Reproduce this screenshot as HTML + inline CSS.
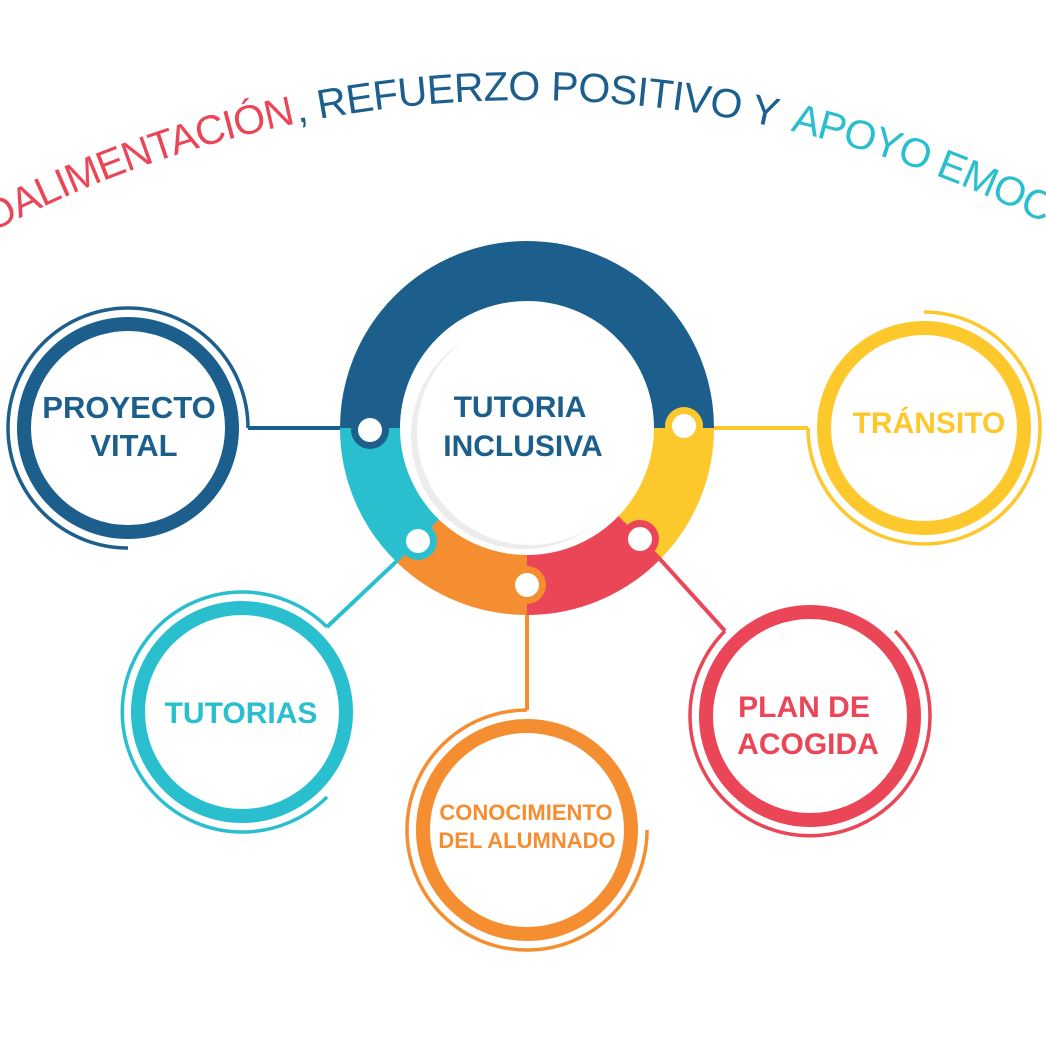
<!DOCTYPE html>
<html><head><meta charset="utf-8"><style>
html,body{margin:0;padding:0;background:#fff}
svg{display:block}
text{font-family:"Liberation Sans",sans-serif}
</style></head><body>
<svg width="1046" height="1046" viewBox="0 0 1046 1046" xmlns="http://www.w3.org/2000/svg">
<defs>
<path id="arc" d="M-212,369 A1150,1150 0 0 1 1266,369"/>
</defs>
<!-- title -->
<text font-size="41" letter-spacing="-1">
<textPath href="#arc" startOffset="569" text-anchor="end" fill="#ea4657">RETROALIMENTACIÓN</textPath>
</text>
<text font-size="41" letter-spacing="-0.5">
<textPath href="#arc" startOffset="572" text-anchor="start" fill="#1c5f8c">, REFUERZO POSITIVO Y</textPath>
</text>
<text font-size="41" letter-spacing="-1">
<textPath href="#arc" startOffset="1068" text-anchor="start" fill="#29bfcf">APOYO EMOCIONAL</textPath>
</text>

<!-- connectors -->
<g fill="none" stroke-width="4">
<path d="M370,428 H248" stroke="#1c5f8c"/>
<path d="M684,428 H808" stroke="#fdc82c"/>
<path d="M418,541 L327,627" stroke="#29bfcf"/>
<path d="M527,585 V710" stroke="#f58e30"/>
<path d="M640,537 L725,631" stroke="#ea4657"/>
</g>

<!-- central ring -->
<g fill="none" stroke-width="60">
<path d="M370,428 A157,157 0 0 1 684,428" stroke="#1c5f8c"/>
<path d="M684,428 A157,157 0 0 1 640,537" stroke="#fdc82c"/>
<path d="M640,537 A157,157 0 0 1 527,585" stroke="#ea4657"/>
<path d="M527,585 A157,157 0 0 1 418,541" stroke="#f58e30"/>
<path d="M418,541 A157,157 0 0 1 370,428" stroke="#29bfcf"/>
</g>
<circle cx="370" cy="430" r="19" fill="#1c5f8c"/>
<circle cx="684" cy="426" r="19" fill="#fdc82c"/>
<circle cx="418" cy="541" r="19" fill="#29bfcf"/>
<circle cx="527" cy="585" r="19" fill="#f58e30"/>
<circle cx="640" cy="539" r="19" fill="#ea4657"/>
<g fill="#fff">
<circle cx="370" cy="430" r="12"/>
<circle cx="684" cy="426" r="12"/>
<circle cx="418" cy="541" r="12"/>
<circle cx="527" cy="585" r="12"/>
<circle cx="640" cy="539" r="12"/>
</g>
<circle cx="524" cy="436" r="113" fill="#ececec"/>
<circle cx="530" cy="432" r="113" fill="#fff"/>
<text x="520" y="417" font-size="30" font-weight="bold" fill="#1c5f8c" text-anchor="middle">TUTORIA</text>
<text x="523" y="456" font-size="30" font-weight="bold" fill="#1c5f8c" text-anchor="middle">INCLUSIVA</text>

<!-- satellites -->
<g fill="#fff" stroke-width="14">
<circle cx="128" cy="428" r="104" stroke="#1c5f8c"/>
<circle cx="924" cy="428" r="100" stroke="#fdc82c"/>
<circle cx="242" cy="712" r="104" stroke="#29bfcf"/>
<circle cx="527" cy="830" r="104" stroke="#f58e30"/>
<circle cx="810" cy="716" r="104" stroke="#ea4657"/>
</g>
<g fill="none" stroke-width="3.5">
<path d="M128,548 A120,120 0 1 1 248,428" stroke="#1c5f8c"/>
<path d="M924,312 A116,116 0 1 1 808,428" stroke="#fdc82c"/>
<path d="M327,797 A120,120 0 1 1 327,627" stroke="#29bfcf"/>
<path d="M647,830 A120,120 0 1 1 527,710" stroke="#f58e30"/>
<path d="M895,631 A120,120 0 1 1 725,631" stroke="#ea4657"/>
</g>

<g font-weight="bold" text-anchor="middle">
<text x="129" y="418" font-size="31" fill="#1c5f8c">PROYECTO</text>
<text x="134" y="456" font-size="31" fill="#1c5f8c">VITAL</text>
<text x="929" y="433" font-size="30" fill="#fdc82c">TRÁNSITO</text>
<text x="241" y="723" font-size="30" fill="#29bfcf">TUTORIAS</text>
<text x="526" y="820" font-size="22" fill="#f58e30">CONOCIMIENTO</text>
<text x="527" y="848" font-size="22" fill="#f58e30">DEL ALUMNADO</text>
<text x="804" y="717" font-size="30" fill="#ea4657">PLAN DE</text>
<text x="808" y="754" font-size="30" fill="#ea4657">ACOGIDA</text>
</g>
</svg>
</body></html>
